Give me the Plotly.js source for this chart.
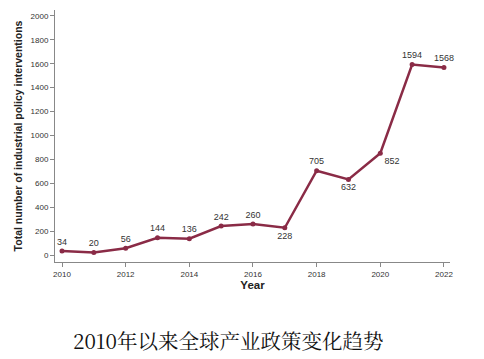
<!DOCTYPE html>
<html><head><meta charset="utf-8">
<script src="https://cdn.plot.ly/plotly-3.0.1.min.js"></script>
<style>html,body{margin:0;padding:0;background:#fff}#chart{width:484px;height:359px}</style>
</head><body><div id="chart"></div>
<script>
const years = [2010,2011,2012,2013,2014,2015,2016,2017,2018,2019,2020,2021,2022];
const interventions = [34,20,56,144,136,242,260,228,705,632,852,1594,1568];
const labelPositions = ['top center','top center','top center','top center','top center','top center','top center','bottom center','top center','bottom center','bottom right','top center','top center'];
const xTicks = [2010,2012,2014,2016,2018,2020,2022];
const yTicks = [0,200,400,600,800,1000,1200,1400,1600,1800,2000];
const caption = '2010年以来全球产业政策变化趋势';

const trace = {
  x: years, y: interventions, type: 'scatter', mode: 'lines+markers+text',
  text: interventions.map(String), textposition: labelPositions,
  textfont: {family: 'Liberation Sans, Arial, sans-serif', size: 9, color: '#333'},
  line: {color: '#8a2b46', width: 2.5}, marker: {color: '#8a2b46', size: 5},
  cliponaxis: false, hoverinfo: 'none'
};
const axFont = {family: 'Liberation Sans, Arial, sans-serif', size: 8, color: '#333'};
const layout = {
  width: 484, height: 359,
  margin: {l: 55, r: 34, t: 10, b: 97},
  paper_bgcolor: '#fff', plot_bgcolor: '#fff',
  showlegend: false,
  xaxis: {range: [2009.78, 2022.19], tickvals: xTicks, ticks: 'outside', ticklen: 4, tickcolor: '#888',
    showline: true, linecolor: '#888', linewidth: 1, showgrid: false, zeroline: false, tickfont: axFont,
    title: {text: 'Year', font: {family: 'Liberation Sans, Arial, sans-serif', size: 11.5, color: '#222', weight: 'bold'}, standoff: 3}},
  yaxis: {range: [-58.6, 2050], tickvals: yTicks, ticks: 'outside', ticklen: 4, tickcolor: '#888',
    showline: true, linecolor: '#888', linewidth: 1, showgrid: false, zeroline: false, tickfont: axFont,
    title: {text: 'Total number of industrial policy interventions', font: {family: 'Liberation Sans, Arial, sans-serif', size: 10.5, color: '#222', weight: 'bold'}, standoff: 5}},
  annotations: [{text: caption, xref: 'paper', yref: 'paper', x: (228-55)/395, y: -0.31, xanchor: 'center', yanchor: 'middle', showarrow: false,
    font: {family: 'Noto Serif CJK SC, Noto Sans CJK SC, serif', size: 20.5, color: '#111'}}]
};
Plotly.newPlot('chart', [trace], layout, {displayModeBar: false, staticPlot: true});
</script></body></html>
